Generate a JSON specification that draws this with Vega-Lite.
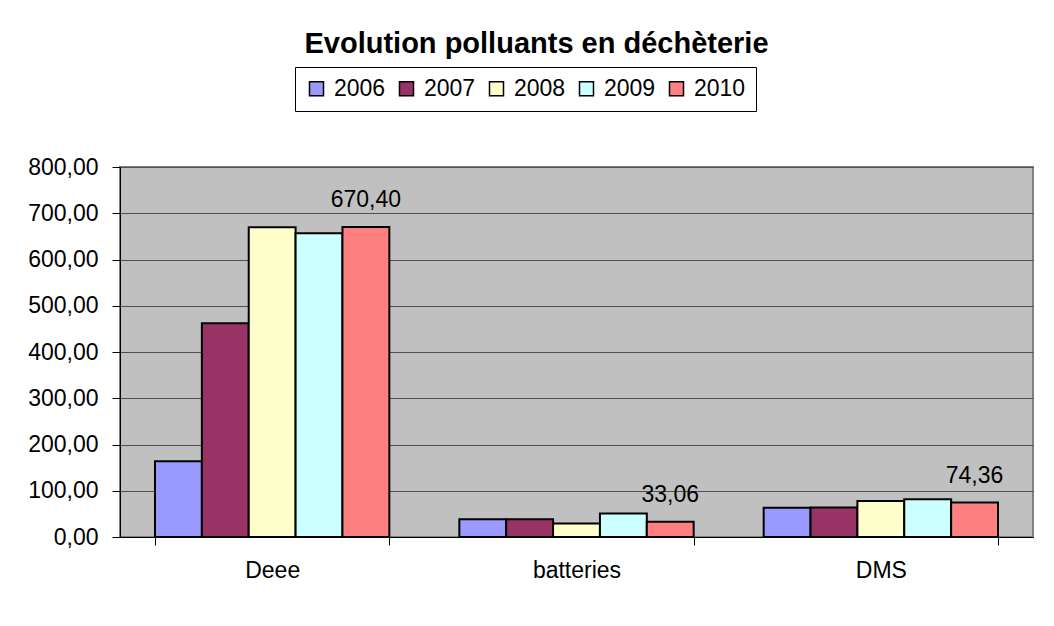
{
  "$schema": "https://vega.github.io/schema/vega-lite/v6.json",
  "width": 913,
  "height": 370,
  "autosize": {"type": "none"},
  "padding": {"left": 120, "top": 167, "right": 21, "bottom": 89},
  "background": "white",
  "config": {
    "locale": {"number": {"decimal": ",", "thousands": " ", "grouping": [3], "currency": ["", " €"]}},
    "font": "Liberation Sans",
    "view": {"fill": "#C0C0C0", "stroke": "#808080", "strokeWidth": 2}
  },
  "title": {
    "text": "Evolution polluants en déchèterie",
    "font": "Liberation Sans",
    "fontSize": 29,
    "fontWeight": "bold",
    "color": "black",
    "anchor": "middle",
    "frame": "group",
    "dx": -40,
    "dy": 28,
    "baseline": "alphabetic",
    "offset": 12.5
  },
  "data": {
    "values": [
      {"cat": "Deee", "year": "2006", "value": 164},
      {"cat": "Deee", "year": "2007", "value": 462},
      {"cat": "Deee", "year": "2008", "value": 669.5},
      {"cat": "Deee", "year": "2009", "value": 656.5},
      {"cat": "Deee", "year": "2010", "value": 670.4},
      {"cat": "batteries", "year": "2006", "value": 38.5},
      {"cat": "batteries", "year": "2007", "value": 38.5},
      {"cat": "batteries", "year": "2008", "value": 29},
      {"cat": "batteries", "year": "2009", "value": 51},
      {"cat": "batteries", "year": "2010", "value": 33.06},
      {"cat": "DMS", "year": "2006", "value": 63.5},
      {"cat": "DMS", "year": "2007", "value": 64},
      {"cat": "DMS", "year": "2008", "value": 78},
      {"cat": "DMS", "year": "2009", "value": 81.5},
      {"cat": "DMS", "year": "2010", "value": 74.36}
    ]
  },
  "encoding": {
    "x": {
      "field": "cat",
      "type": "nominal",
      "sort": ["Deee", "batteries", "DMS"],
      "scale": {"paddingInner": 0.23, "paddingOuter": 0.115},
      "axis": {
        "title": null,
        "labelAngle": 0,
        "tickBand": "extent",
        "tickSize": 8,
        "tickColor": "black",
        "domainColor": "black",
        "labelFont": "Liberation Sans",
        "labelFontSize": 23,
        "labelColor": "black",
        "labelPadding": 14
      }
    },
    "xOffset": {"field": "year", "type": "nominal", "scale": {"paddingInner": 0, "paddingOuter": 0}},
    "y": {
      "field": "value",
      "type": "quantitative",
      "scale": {"domain": [0, 800], "nice": false},
      "axis": {
        "title": null,
        "values": [0, 100, 200, 300, 400, 500, 600, 700, 800],
        "format": ".2f",
        "tickSize": 8,
        "tickColor": "black",
        "domainColor": "black",
        "gridColor": "#505050",
        "gridWidth": 1,
        "labelFont": "Liberation Sans",
        "labelFontSize": 23,
        "labelColor": "black",
        "labelPadding": 14
      }
    }
  },
  "layer": [
    {
      "mark": {"type": "bar", "stroke": "black", "strokeWidth": 2},
      "encoding": {
        "color": {
          "field": "year",
          "type": "nominal",
          "scale": {"domain": ["2006", "2007", "2008", "2009", "2010"], "range": ["#9999FF", "#993366", "#FFFFCC", "#CCFFFF", "#FF8080"]},
          "legend": {
            "title": null,
            "orient": "none",
            "legendX": 175,
            "legendY": -100,
            "direction": "horizontal",
            "fillColor": "white",
            "strokeColor": "black",
            "padding": 10,
            "symbolType": "square",
            "symbolSize": 196,
            "symbolStrokeColor": "black",
            "symbolStrokeWidth": 1.5,
            "symbolOpacity": 1,
            "labelFont": "Liberation Sans",
            "labelFontSize": 23,
            "labelColor": "black",
            "labelOffset": 6,
            "columnPadding": 9
          }
        }
      }
    },
    {
      "transform": [{"filter": "datum.year == '2010'"}],
      "mark": {"type": "text", "dy": -20, "baseline": "alphabetic", "fontSize": 23, "font": "Liberation Sans", "color": "black"},
      "encoding": {
        "text": {"field": "value", "type": "quantitative", "format": ".2f"}
      }
    }
  ]
}
